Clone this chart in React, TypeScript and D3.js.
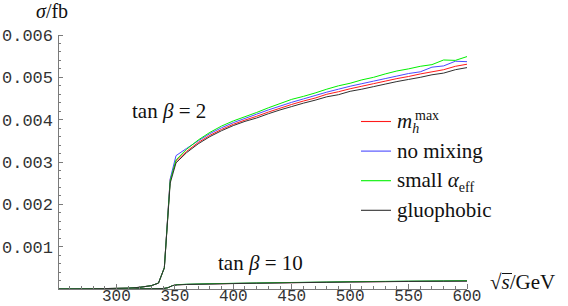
import React from "react";
import * as d3 from "d3";

// sqrt(s) in GeV for the tan(beta)=2 curves
const energies2 = [
  250, 270, 290, 310, 320, 330, 336, 341, 346, 351, 360, 370, 380, 390, 400, 410, 420, 430, 440,
  450, 460, 470, 480, 490, 500, 510, 520, 530, 540, 550, 560, 570, 580, 590, 600,
];
const low2 = [0, 0.000004, 0.00001, 0.00002, 0.00004, 0.00008, 0.00014, 0.0005];

const mhmax2 = [
  ...low2, 0.00258, 0.00302, 0.00325, 0.00346, 0.00363, 0.00377, 0.00389, 0.00399, 0.00408,
  0.00418, 0.00427, 0.00436, 0.00444, 0.00451, 0.0046, 0.00466, 0.00473, 0.00479, 0.00485,
  0.00491, 0.00497, 0.00502, 0.00508, 0.00513, 0.00518, 0.00526, 0.00531,
];
const nomix2 = [
  ...low2, 0.0026, 0.00315, 0.00332, 0.0035, 0.00367, 0.00381, 0.00393, 0.00403, 0.00413,
  0.00423, 0.00432, 0.00441, 0.00449, 0.00457, 0.00465, 0.00472, 0.00479, 0.00485, 0.00491,
  0.00497, 0.00503, 0.00509, 0.00513, 0.00524, 0.00527, 0.00538, 0.00537,
];
const small2 = [
  ...low2, 0.00255, 0.00305, 0.0033, 0.00352, 0.0037, 0.00385, 0.00397, 0.00407, 0.00417,
  0.00428, 0.00438, 0.00448, 0.00455, 0.00463, 0.00472, 0.0048, 0.00486, 0.00494, 0.005,
  0.00508, 0.00515, 0.0052, 0.00526, 0.0053, 0.00541, 0.0054, 0.00549,
];
const gluo2 = [
  ...low2, 0.0025, 0.00298, 0.00322, 0.00343, 0.0036, 0.00374, 0.00386, 0.00396, 0.00404,
  0.00414, 0.00423, 0.00431, 0.00439, 0.00446, 0.00454, 0.00459, 0.00467, 0.00472, 0.00478,
  0.00484, 0.0049, 0.00495, 0.005, 0.00506, 0.0051, 0.00518, 0.00523,
];

// sqrt(s) in GeV for the tan(beta)=10 curves
const energies10 = [250, 300, 330, 340, 344, 348, 352, 360, 380, 400, 420, 450, 480, 500, 530, 550, 580, 600];
const mhmax10 = [0, 0, 0.000005, 0.00001, 0.00003, 0.00008, 0.0001, 0.000108, 0.00012, 0.00013, 0.000138, 0.00015, 0.00016, 0.000168, 0.000175, 0.00018, 0.000186, 0.00019];
const nomix10 = [0, 0, 0.000005, 0.00001, 0.00003, 0.00008, 0.0001, 0.00011, 0.000122, 0.000132, 0.00014, 0.000152, 0.000162, 0.00017, 0.000177, 0.000182, 0.000188, 0.000192];
const small10 = [0, 0, 0.000005, 0.00001, 0.00003, 0.00008, 0.000102, 0.000112, 0.000124, 0.000134, 0.000142, 0.000154, 0.000164, 0.000172, 0.00018, 0.000185, 0.000191, 0.000196];
const gluo10 = [0, 0, 0.000005, 0.00001, 0.00003, 0.00008, 0.000098, 0.000106, 0.000118, 0.000128, 0.000136, 0.000148, 0.000158, 0.000166, 0.000173, 0.000178, 0.000184, 0.000188];

const seriesNames = ["mhmax", "nomix", "small", "gluo"];
const seriesColors = ["#ff1a1a", "#4a4aff", "#00f000", "#303030"];

const xTicks = [300, 350, 400, 450, 500, 550, 600];
const yTicks = [0.001, 0.002, 0.003, 0.004, 0.005, 0.006];

export default function App() {
  const w = 568;
  const h = 306;
  const x = d3.scaleLinear().domain([250, 600]).range([58, 467]);
  const y = d3.scaleLinear().domain([0, 0.006]).range([289, 35]);

  const curves2 = [mhmax2, nomix2, small2, gluo2];
  const curves10 = [mhmax10, nomix10, small10, gluo10];

  const line = (xs: number[], ys: number[]) =>
    d3
      .line<number>()
      .x((_, i) => x(xs[i]))
      .y((d) => y(d))(ys) as string;

  const xMinor = d3.range(260, 600, 10).filter((v) => v % 50 !== 0);
  const yMinor = d3.range(1, 30).map((i) => i * 0.0002).filter((_, i) => (i + 1) % 5 !== 0);

  const axisColor = "#7a7a7a";
  const mono = "'Liberation Mono', 'Courier New', monospace";
  const serif = "'Liberation Serif', 'Times New Roman', serif";

  const legendY = (i: number) => 121.5 + i * 29.6;

  return (
    <svg width={w} height={h} style={{ position: "absolute", left: 0, top: 0, background: "#fff" }}>
      {/* curves */}
      <g fill="none" strokeWidth={1} strokeLinejoin="round">
        {curves10.map((c, i) => (
          <path key={"t10" + i} d={line(energies10, c)} stroke={seriesColors[i]} />
        ))}
        {curves2.map((c, i) => (
          <path key={"t2" + i} d={line(energies2, c)} stroke={seriesColors[i]} />
        ))}
      </g>

      {/* axes */}
      <g stroke={axisColor} strokeWidth={1} shapeRendering="crispEdges">
        <line x1={x(250)} x2={x(600)} y1={y(0)} y2={y(0)} />
        <line x1={x(250)} x2={x(250)} y1={y(0)} y2={y(0.006)} />
        {xTicks.map((t) => (
          <line key={"xt" + t} x1={x(t)} x2={x(t)} y1={y(0)} y2={y(0) - 5} />
        ))}
        {xMinor.map((t) => (
          <line key={"xm" + t} x1={x(t)} x2={x(t)} y1={y(0)} y2={y(0) - 3} />
        ))}
        {yTicks.map((t) => (
          <line key={"yt" + t} x1={x(250)} x2={x(250) + 5} y1={y(t)} y2={y(t)} />
        ))}
        {yMinor.map((t) => (
          <line key={"ym" + t} x1={x(250)} x2={x(250) + 3} y1={y(t)} y2={y(t)} />
        ))}
      </g>

      {/* tick labels */}
      <g fontFamily={mono} fontSize={17} fill="#333">
        {xTicks.map((t) => (
          <text key={"xl" + t} x={x(t)} y={301} fontSize={16} textAnchor="middle">
            {String(t)}
          </text>
        ))}
        {yTicks.map((t) => (
          <text key={"yl" + t} x={53} y={y(t)} dy="0.35em" textAnchor="end">
            {t.toFixed(3)}
          </text>
        ))}
      </g>

      {/* axis labels and annotations */}
      <g fontFamily={serif} fontSize={20} fill="#111">
        <text x={36} y={18}>
          <tspan fontStyle="italic">σ</tspan>/fb
        </text>
        <text x={490} y={289} fontSize={21}>
          √<tspan fontStyle="italic">s</tspan>/GeV
        </text>
        <line x1={502} x2={512} y1={273.5} y2={273.5} stroke="#111" strokeWidth={1} />
        <text x={132} y={118} fontSize={21}>
          tan <tspan fontStyle="italic">β</tspan> = 2
        </text>
        <text x={218} y={270} fontSize={21}>
          tan <tspan fontStyle="italic">β</tspan> = 10
        </text>
      </g>

      {/* legend */}
      <g fontFamily={serif} fontSize={21} fill="#111">
        {seriesNames.map((n, i) => (
          <line key={"ll" + n} x1={361} x2={391} y1={legendY(i)} y2={legendY(i)} stroke={seriesColors[i]} strokeWidth={1.1} />
        ))}
        <text x={397} y={legendY(0) + 6.5}>
          <tspan fontStyle="italic">m</tspan>
          <tspan fontStyle="italic" fontSize={14} dy={5}>h</tspan>
        </text>
        <text x={415} y={legendY(0) - 2} fontSize={14}>
          max
        </text>
        <text x={397} y={legendY(1) + 6.5}>no mixing</text>
        <text x={397} y={legendY(2) + 6.5}>
          small <tspan fontStyle="italic">α</tspan>
          <tspan fontSize={14} dy={5}>eff</tspan>
        </text>
        <text x={397} y={legendY(3) + 6.5}>gluophobic</text>
      </g>
    </svg>
  );
}
